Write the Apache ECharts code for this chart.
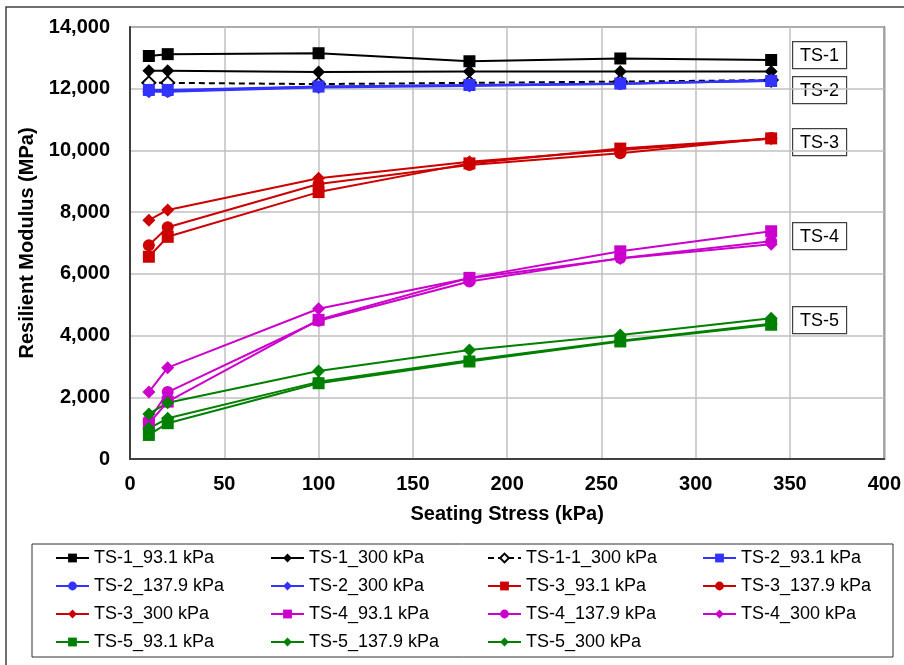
<!DOCTYPE html>
<html>
<head>
<meta charset="utf-8">
<script src="https://cdn.jsdelivr.net/npm/echarts@6/dist/echarts.min.js"></script>
<style>
  html, body { margin: 0; padding: 0; background: #fff; }
  #chart { width: 904px; height: 665px; }
</style>
</head>
<body>
<div id="chart"></div>
<script>
// Seating stress levels (kPa)
var stress = [10, 20, 100, 180, 260, 340];

// Resilient modulus (MPa) for each specimen / confining pressure
var ts1_93 = [13060, 13120, 13150, 12890, 12980, 12930];
var ts1_300 = [12580, 12580, 12540, 12560, 12560, 12560];
var ts11_300 = [12190, 12190, 12150, 12190, 12230, 12280];
var ts2_93 = [11960, 11960, 12070, 12120, 12170, 12250];
var ts2_138 = [11930, 11920, 12060, 12110, 12150, 12260];
var ts2_300 = [11900, 11900, 12040, 12090, 12160, 12280];
var ts3_93 = [6555, 7200, 8650, 9580, 10060, 10390];
var ts3_138 = [6930, 7510, 8910, 9530, 9910, 10400];
var ts3_300 = [7740, 8070, 9100, 9630, 10010, 10380];
var ts4_93 = [1150, 1860, 4510, 5870, 6730, 7380];
var ts4_138 = [1250, 2170, 4480, 5750, 6510, 7060];
var ts4_300 = [2170, 2960, 4870, 5860, 6500, 6960];
var ts5_93 = [780, 1160, 2455, 3160, 3810, 4350];
var ts5_138 = [995, 1320, 2500, 3200, 3830, 4380];
var ts5_300 = [1460, 1825, 2850, 3535, 4020, 4560];

// Specimen group labels at the right of the plot
var groupLabels = ['TS-1', 'TS-2', 'TS-3', 'TS-4', 'TS-5'];

var BLACK = '#000000', BLUE = '#3333ff', RED = '#cc0000', MAG = '#cc00cc', GREEN = '#008000';

var seriesDefs = [
  ['TS-1_93.1 kPa', ts1_93, BLACK, 'rect', false],
  ['TS-1_300 kPa', ts1_300, BLACK, 'diamond', false],
  ['TS-1-1_300 kPa', ts11_300, BLACK, 'emptyDiamond', true],
  ['TS-2_93.1 kPa', ts2_93, BLUE, 'rect', false],
  ['TS-2_137.9 kPa', ts2_138, BLUE, 'circle', false],
  ['TS-2_300 kPa', ts2_300, BLUE, 'diamond', false],
  ['TS-3_93.1 kPa', ts3_93, RED, 'rect', false],
  ['TS-3_137.9 kPa', ts3_138, RED, 'circle', false],
  ['TS-3_300 kPa', ts3_300, RED, 'diamond', false],
  ['TS-4_93.1 kPa', ts4_93, MAG, 'rect', false],
  ['TS-4_137.9 kPa', ts4_138, MAG, 'circle', false],
  ['TS-4_300 kPa', ts4_300, MAG, 'diamond', false],
  ['TS-5_93.1 kPa', ts5_93, GREEN, 'rect', false],
  ['TS-5_137.9 kPa', ts5_138, GREEN, 'diamond', false],
  ['TS-5_300 kPa', ts5_300, GREEN, 'diamond', false]
];

var FONT = '"Liberation Sans", Arial, sans-serif';

var series = seriesDefs.map(function (d) {
  var sym = d[3];
  var size = sym === 'rect' ? 12 : (sym === 'circle' ? 12 : 13);
  return {
    name: d[0],
    type: 'line',
    data: stress.map(function (x, i) { return [x, d[1][i]]; }),
    symbol: sym,
    symbolSize: size,
    showSymbol: true,
    lineStyle: { color: d[2], width: 2, type: d[4] ? [6, 4] : 'solid' },
    itemStyle: { color: d[2], borderWidth: d[4] ? 1.2 : 0 },
    emphasis: { disabled: true }
  };
});

// four legend columns, filled row by row
var legendLefts = [55, 270, 487, 702];
var legends = legendLefts.map(function (left, col) {
  return {
    orient: 'vertical',
    left: left,
    top: 549,
    itemWidth: 33,
    itemHeight: 11,
    itemGap: 10,
    padding: 0,
    selectedMode: false,
    textStyle: { fontFamily: FONT, fontSize: 18, color: '#000' },
    data: seriesDefs.filter(function (d, i) { return i % 4 === col; }).map(function (d) { return d[0]; })
  };
});

// boxed group labels
var boxTops = [41, 76, 128, 222, 306];
var graphics = [
  { type: 'rect', shape: { x: 6, y: 7, width: 910, height: 670 }, style: { fill: null, stroke: '#404040', lineWidth: 1.5 }, silent: true, z: -10 },
  { type: 'rect', shape: { x: 32, y: 544, width: 861, height: 113 }, style: { fill: null, stroke: '#303030', lineWidth: 1 }, silent: true }
];
groupLabels.forEach(function (t, i) {
  graphics.push({
    type: 'group',
    left: 792,
    top: boxTops[i],
    z: 100,
    children: [
      { type: 'rect', shape: { x: 0, y: 0, width: 54, height: 27 }, style: { fill: '#fff', stroke: '#404040', lineWidth: 1.2 } },
      { type: 'text', x: 27, y: 14, style: { text: t, font: '18px ' + FONT, fill: '#000', align: 'center', verticalAlign: 'middle' } }
    ]
  });
});

var chart = echarts.init(document.getElementById('chart'), null, { renderer: 'canvas' });
chart.setOption({
  animation: false,
  backgroundColor: '#ffffff',
  grid: {
    left: 130, right: 16, top: 27, bottom: 206,
    show: true, borderColor: '#404040', borderWidth: 1.5, containLabel: false
  },
  xAxis: {
    type: 'value', min: 0, max: 400, interval: 50,
    name: 'Seating Stress (kPa)', nameLocation: 'middle', nameGap: 45,
    nameTextStyle: { fontFamily: FONT, fontSize: 20, fontWeight: 'bold', color: '#000' },
    axisLine: { show: true, lineStyle: { color: '#404040', width: 2 } },
    axisTick: { show: false },
    axisLabel: { fontFamily: FONT, fontSize: 20, fontWeight: 'bold', color: '#000', margin: 15 },
    splitLine: { show: true, lineStyle: { color: '#c0c0c0', width: 1.5 } }
  },
  yAxis: {
    type: 'value', min: 0, max: 14000, interval: 2000,
    name: 'Resilient Modulus (MPa)', nameLocation: 'middle', nameGap: 86,
    nameTextStyle: { fontFamily: FONT, fontSize: 20, fontWeight: 'bold', color: '#000' },
    axisLine: { show: true, lineStyle: { color: '#404040', width: 2 } },
    axisTick: { show: false },
    axisLabel: { fontFamily: FONT, fontSize: 20, fontWeight: 'bold', color: '#000', margin: 20 },
    splitLine: { show: true, lineStyle: { color: '#c0c0c0', width: 1.5 } }
  },
  legend: legends,
  tooltip: { show: false },
  series: series,
  graphic: graphics
});
</script>
</body>
</html>
